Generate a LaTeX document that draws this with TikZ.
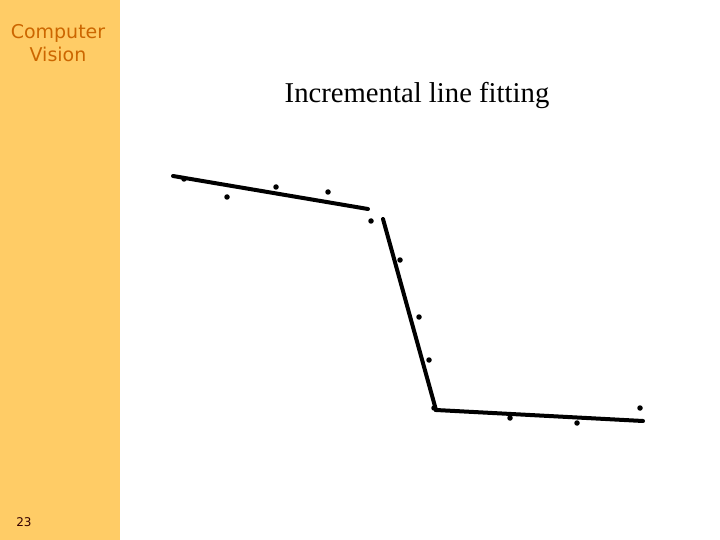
\documentclass[tikz,border=0pt]{standalone}
\usepackage{fontspec}
\setmainfont{Liberation Serif}
\newfontfamily\sidefont{DejaVu Sans}
\definecolor{sidebar}{HTML}{FFCC66}
\definecolor{sidetext}{HTML}{CC6600}
\definecolor{numtext}{HTML}{330000}
\begin{document}
\begin{tikzpicture}[x=1pt,y=-1pt,
  dotpt/.style={circle,fill=black,inner sep=0pt,minimum size=5.5pt},
  fitline/.style={line width=4pt,line cap=round}]
\useasboundingbox (0,0) rectangle (720,540);
\fill[white] (0,0) rectangle (720,540);
\fill[sidebar] (0,0) rectangle (120,540);
\node[align=center,text=sidetext,font=\sidefont\fontsize{19}{23}\selectfont] (brand) at (58,43) {Computer\\Vision};
\node[text=numtext,font=\sidefont\fontsize{12}{14}\selectfont] (pagenum) at (24,522) {23};
\node[font=\fontsize{28.7}{34}\selectfont] (title) at (417,95) {Incremental line fitting};
% fitted lines
\coordinate (a1) at (173,176);
\coordinate (a2) at (368,209);
\coordinate (b1) at (383,219);
\coordinate (b2) at (436,410);
\coordinate (c2) at (643,421);
\draw[fitline] (a1) -- (a2);
\draw[fitline] (b1) -- (b2) -- (c2);
% data points
\node[dotpt] (p1) at (184,179) {};
\node[dotpt] (p2) at (227,197) {};
\node[dotpt] (p3) at (276,187) {};
\node[dotpt] (p4) at (328,192) {};
\node[dotpt] (p5) at (371,221) {};
\node[dotpt] (p6) at (400,260) {};
\node[dotpt] (p7) at (419,317) {};
\node[dotpt] (p8) at (429,360) {};
\node[dotpt] (p9) at (434,408) {};
\node[dotpt] (p10) at (510,418) {};
\node[dotpt] (p11) at (577,423) {};
\node[dotpt] (p12) at (640,408) {};
\end{tikzpicture}
\end{document}
